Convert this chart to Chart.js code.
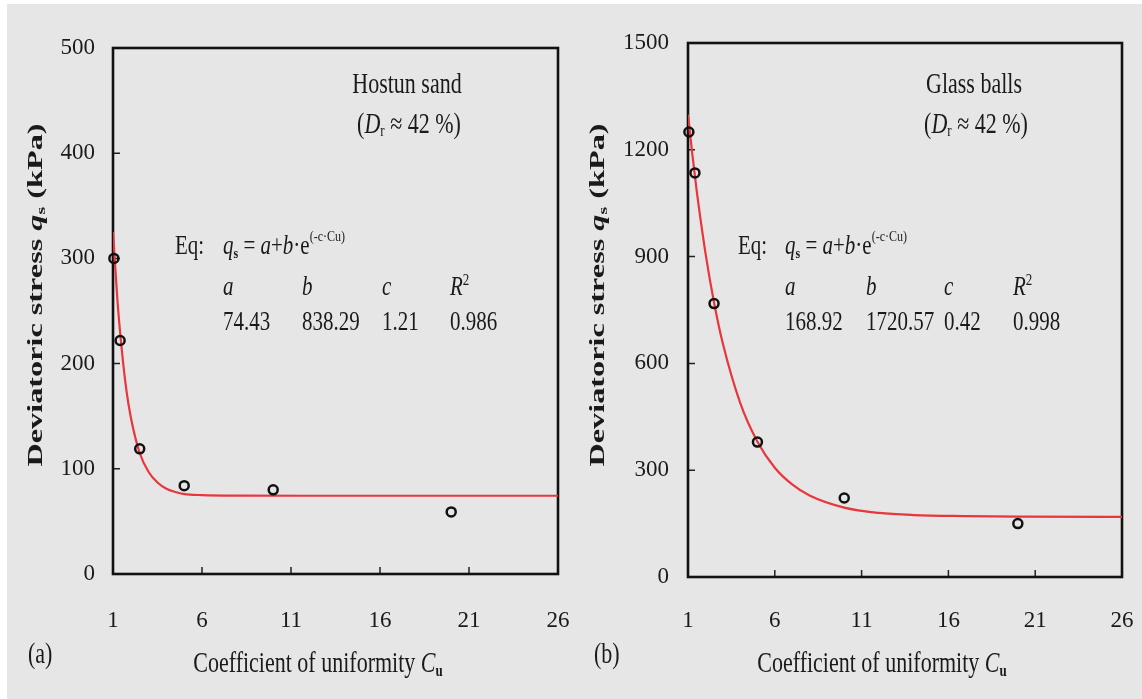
<!DOCTYPE html>
<html lang="en">
<head>
    <meta charset="UTF-8">
    <title>Deviatoric stress vs coefficient of uniformity</title>
    <style>
        * { box-sizing: border-box; margin: 0; padding: 0; }
        body { width: 1142px; height: 699px; background: #ffffff; overflow: hidden; position: relative; }
        .paper { position: absolute; left: 7px; top: 4px; right: 0; bottom: 0; background: #e6e6e6; }
        .panel { position: absolute; top: 0; width: 571px; height: 699px; }
        #panelA { left: 0; }
        #panelB { left: 571px; }
    </style>
</head>
<body>
<div class="paper"></div>
<div class="panel" id="panelA"><canvas id="chartA"></canvas></div>
<div class="panel" id="panelB"><canvas id="chartB"></canvas></div>

<script src="https://cdn.jsdelivr.net/npm/chart.js"></script>
<script>
    const cuPoints = [1.05, 1.4, 2.5, 5.0, 10.0, 20.0];
    const sandPoints = [300, 222, 119, 84, 80, 59];
    const glassPoints = [1250, 1135, 768, 379, 222, 150];

    // fitted curves, sampled from the red lines
    const sandCurveX = [1, 1.25, 1.5, 1.75, 2, 2.5, 3, 3.5, 4, 4.5, 5, 6, 8, 12, 26];
    const sandCurveY = [325, 260, 212, 175, 149, 115, 97, 87, 81, 78, 76, 75, 74.5, 74.4, 74.4];
    const glassCurveX = [1, 1.25, 1.5, 2, 2.5, 3, 4, 5, 6, 7, 8, 10, 12, 14, 17, 20, 26];
    const glassCurveY = [1299, 1187, 1085, 912, 771, 657, 490, 380, 307, 260, 229, 195, 180, 174, 171, 169.5, 169];

    // axis ticks
    const xTicks = [1, 6, 11, 16, 21, 26];
    const sandYTicks = [0, 100, 200, 300, 400, 500];
    const glassYTicks = [0, 300, 600, 900, 1200, 1500];

    const SERIF = '"Liberation Serif", "Times New Roman", serif';
    const INK = '#1a1a1a';
    const f = (style, size) => style + ' ' + size + 'px ' + SERIF;

    function xy(xs, ys) {
        return xs.map((v, i) => ({ x: v, y: ys[i] }));
    }

    // draws a run of text parts [text, font, dy], stretched vertically like the scan
    function drawRich(ctx, parts, x, y, align, sy) {
        let w = 0;
        parts.forEach(p => { ctx.font = p[1]; w += ctx.measureText(p[0]).width; });
        let cx = align === 'center' ? -w / 2 : 0;
        ctx.save();
        ctx.translate(x, y);
        ctx.scale(1, sy);
        ctx.textBaseline = 'middle';
        ctx.textAlign = 'left';
        ctx.fillStyle = INK;
        parts.forEach(p => {
            ctx.font = p[1];
            ctx.fillText(p[0], cx, p[2] || 0);
            cx += ctx.measureText(p[0]).width;
        });
        ctx.restore();
    }

    function drawVertical(ctx, parts, x, y, len) {
        let w = 0;
        parts.forEach(p => { ctx.font = p[1]; w += ctx.measureText(p[0]).width; });
        ctx.save();
        ctx.translate(x, y);
        ctx.rotate(-Math.PI / 2);
        ctx.scale(len / w, 1);
        ctx.textBaseline = 'middle';
        ctx.fillStyle = INK;
        let cx = -w / 2;
        parts.forEach(p => {
            ctx.font = p[1];
            ctx.fillText(p[0], cx, p[2] || 0);
            cx += ctx.measureText(p[0]).width;
        });
        ctx.restore();
    }

    const framePlugin = {
        id: 'frame',
        beforeDatasetsDraw(chart) {
            const { ctx, chartArea: a, scales: { x, y } } = chart;
            ctx.save();
            ctx.strokeStyle = '#222';
            ctx.lineWidth = 1.5;
            ctx.beginPath();
            x.ticks.forEach(t => {
                if (t.value > x.min && t.value < x.max) {
                    const px = x.getPixelForValue(t.value);
                    ctx.moveTo(px, a.bottom);
                    ctx.lineTo(px, a.bottom - 7);
                }
            });
            y.ticks.forEach(t => {
                if (t.value > y.min && t.value < y.max) {
                    const py = y.getPixelForValue(t.value);
                    ctx.moveTo(a.left, py);
                    ctx.lineTo(a.left + 7, py);
                }
            });
            ctx.stroke();
            ctx.strokeStyle = '#111';
            ctx.lineWidth = 2.6;
            ctx.strokeRect(a.left, a.top, a.width, a.height);
            ctx.restore();
        },
        afterDraw(chart, args, o) {
            const ctx = chart.ctx;
            const sy = 1.3;
            drawRich(ctx, [[o.name, f('', 22)]], o.nameX, 85, 'center', sy);
            drawRich(ctx, [['(', f('', 22)], ['D', f('italic', 22)], ['r', f('', 13), 5],
                [' \u2248 42 %)', f('', 22)]], o.nameX + 2, 125, 'center', sy);

            drawRich(ctx, [['Eq:', f('', 21)]], o.eqX, 247, 'left', sy);
            drawRich(ctx, [['q', f('italic', 21)], ['s', f('bold', 12), 5], [' = ', f('', 21)],
                ['a', f('italic', 21)], ['+', f('', 21)], ['b', f('italic', 21)], ['\u00b7e', f('', 21)],
                ['(-c\u00b7Cu)', f('', 12), -8]], o.cols[0], 247, 'left', sy);

            const heads = [[['a', f('italic', 21)]], [['b', f('italic', 21)]], [['c', f('italic', 21)]],
                [['R', f('italic', 21)], ['2', f('', 13), -6]]];
            heads.forEach((h, i) => drawRich(ctx, h, o.cols[i], 288, 'left', sy));
            o.values.forEach((v, i) => drawRich(ctx, [[v, f('', 21)]], o.cols[i], 323, 'left', sy));

            drawRich(ctx, [['Coefficient of uniformity ', f('', 22)], ['C', f('italic', 22)],
                ['u', f('bold', 13), 6]], o.xTitleX, 664, 'center', sy);
            drawRich(ctx, [[o.tag, f('', 22)]], o.tagX, 655, 'left', sy);

            drawVertical(ctx, [['Deviatoric stress ', f('bold', 21)], ['q', f('bold italic', 21)],
                ['s', f('bold', 13), 5], [' (kPa)', f('bold', 21)]], o.yTitleX, 295, 343);
        }
    };

    function makeChart(id, pts, curveX, curveY, yTicks, area, texts) {
        const ctx = document.getElementById(id).getContext('2d');
        return new Chart(ctx, {
            type: 'scatter',
            data: {
                datasets: [{
                    data: xy(cuPoints, pts),
                    order: 0,
                    pointRadius: 4.5,
                    pointBorderWidth: 2.5,
                    pointBorderColor: '#111',
                    pointBackgroundColor: 'rgba(0,0,0,0)',
                    clip: false
                }, {
                    data: xy(curveX, curveY),
                    order: 1,
                    showLine: true,
                    borderColor: '#e8363c',
                    borderWidth: 2.2,
                    pointRadius: 0,
                    cubicInterpolationMode: 'monotone'
                }]
            },
            options: {
                responsive: false,
                animation: false,
                devicePixelRatio: 1,
                layout: { padding: { left: 0, top: area.top, right: area.right, bottom: 0 } },
                plugins: {
                    legend: { display: false },
                    tooltip: { enabled: false },
                    frame: texts
                },
                scales: {
                    x: {
                        type: 'linear',
                        min: xTicks[0],
                        max: xTicks[xTicks.length - 1],
                        grid: { display: false, drawTicks: true, tickLength: area.xGap },
                        border: { display: false },
                        ticks: {
                            stepSize: xTicks[1] - xTicks[0],
                            padding: 0,
                            maxRotation: 0,
                            color: INK,
                            font: { family: SERIF, size: 23 },
                            callback: v => String(v)
                        },
                        afterFit(s) { s.height = 699 - area.bottom; }
                    },
                    y: {
                        type: 'linear',
                        min: yTicks[0],
                        max: yTicks[yTicks.length - 1],
                        grid: { display: false, drawTicks: false },
                        border: { display: false },
                        ticks: {
                            stepSize: yTicks[1] - yTicks[0],
                            padding: area.tickPad,
                            color: INK,
                            font: { family: SERIF, size: 23 },
                            callback: v => String(v)
                        },
                        afterFit(s) { s.width = area.left; }
                    }
                }
            },
            plugins: [framePlugin]
        });
    }

    ['chartA', 'chartB'].forEach(id => {
        const c = document.getElementById(id);
        c.width = 571;
        c.height = 699;
    });

    makeChart('chartA', sandPoints, sandCurveX, sandCurveY, sandYTicks,
        { left: 113, top: 48, right: 13, bottom: 574, tickPad: 18, xGap: 33 },
        {
            name: 'Hostun sand', nameX: 407,
            eqX: 175, cols: [223, 302, 382, 450],
            values: ['74.43', '838.29', '1.21', '0.986'],
            xTitleX: 318, tag: '(a)', tagX: 28, yTitleX: 37
        });

    makeChart('chartB', glassPoints, glassCurveX, glassCurveY, glassYTicks,
        { left: 117, top: 43, right: 20, bottom: 577, tickPad: 19, xGap: 30 },
        {
            name: 'Glass balls', nameX: 403,
            eqX: 167, cols: [214, 295, 373, 442],
            values: ['168.92', '1720.57', '0.42', '0.998'],
            xTitleX: 311, tag: '(b)', tagX: 23, yTitleX: 28
        });
</script>
</body>
</html>
